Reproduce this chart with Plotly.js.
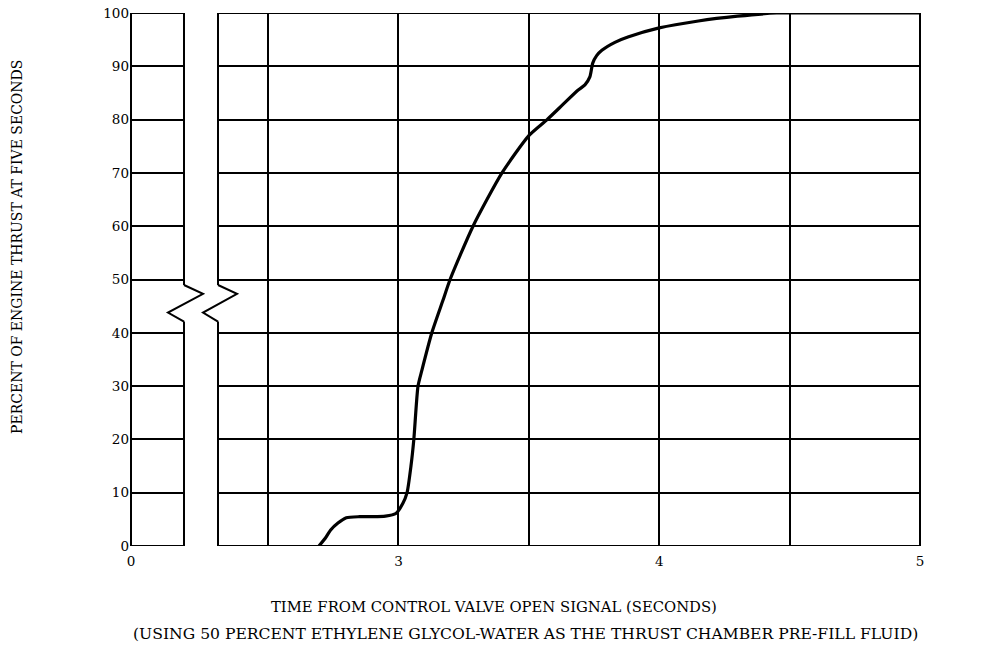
<!DOCTYPE html>
<html>
<head>
<meta charset="utf-8">
<script src="https://cdn.plot.ly/plotly-3.0.1.min.js"></script>
<style>html,body{margin:0;padding:0;background:#fff;}#chart{width:989px;height:655px;}</style>
</head>
<body>
<div id="chart"></div>
<script>
// Data
var timeSec = [2.695, 2.72, 2.74, 2.768, 2.80, 2.85, 2.90, 2.95, 2.99, 3.017, 3.033, 3.048, 3.059, 3.075, 3.09, 3.128, 3.17, 3.198, 3.286, 3.397, 3.50, 3.57, 3.63, 3.688, 3.715, 3.734, 3.745, 3.76, 3.78, 3.83, 3.88, 4.0, 4.15, 4.3, 4.45, 4.7, 5.0];
var thrustPct = [0, 1.5, 3.0, 4.3, 5.3, 5.5, 5.5, 5.6, 6.1, 8.0, 10, 15, 20, 30, 33, 40, 46, 50, 60, 70, 77, 80, 82.8, 85.5, 86.5, 88, 90.6, 92, 93, 94.5, 95.5, 97.2, 98.5, 99.4, 100, 100, 100];

var leftTickVals = [0];
var leftTickText = ['0'];
var rightTickVals = [2.5, 3, 3.5, 4, 4.5, 5];
var rightTickText = ['', '3', '', '4', '', '5'];
var yTickVals = [0, 10, 20, 30, 40, 50, 60, 70, 80, 90, 100];
var yTickText = ['0', '10', '20', '30', '40', '50', '60', '70', '80', '90', '100'];

var yTitle = 'PERCENT OF ENGINE THRUST AT FIVE SECONDS';
var xTitle1 = 'TIME FROM CONTROL VALVE OPEN SIGNAL (SECONDS)';
var xTitle2 = '(USING 50 PERCENT ETHYLENE GLYCOL-WATER AS THE THRUST CHAMBER PRE-FILL FLUID)';

// layout geometry
var L0 = 0, L1 = 0.06717, R0 = 0.11027, R1 = 1;
var brkTop = 48.97, brkA = 47.3, brkB = 43.8, brkBot = 42.1;
var zzOut = 0.0241, zzIn = 0.0203; // zigzag reach (paper units)

var font = 'DejaVu Serif, Liberation Serif, serif';

var traces = [
  {x: [null], y: [null], xaxis: 'x', yaxis: 'y', mode: 'lines', showlegend: false, hoverinfo: 'skip'},
  {x: timeSec, y: thrustPct, xaxis: 'x2', yaxis: 'y', mode: 'lines',
   line: {color: '#000', width: 3.2, shape: 'spline', smoothing: 0.6}, showlegend: false}
];

function P(x, y) { return x + ',' + y; }
var frameStyle = {color: '#000', width: 2};
var shapes = [
  {type: 'path', xref: 'paper', yref: 'y', line: frameStyle, layer: 'above',
   path: 'M ' + P(L1, brkTop) + ' L ' + P(L1, 100) + ' L ' + P(L0, 100) + ' L ' + P(L0, 0) + ' L ' + P(L1, 0) + ' L ' + P(L1, brkBot)},
  {type: 'path', xref: 'paper', yref: 'y', line: frameStyle, layer: 'above',
   path: 'M ' + P(R0, brkTop) + ' L ' + P(R0, 100) + ' L ' + P(R1, 100) + ' L ' + P(R1, 0) + ' L ' + P(R0, 0) + ' L ' + P(R0, brkBot)},
  {type: 'path', xref: 'paper', yref: 'y', line: frameStyle, layer: 'above',
   path: 'M ' + P(L1, brkTop) + ' L ' + P(L1 + zzOut, brkA) + ' L ' + P(L1 - zzIn, brkB) + ' L ' + P(L1, brkBot)},
  {type: 'path', xref: 'paper', yref: 'y', line: frameStyle, layer: 'above',
   path: 'M ' + P(R0, brkTop) + ' L ' + P(R0 + zzOut, brkA) + ' L ' + P(L1 + zzOut, brkB) + ' L ' + P(R0, brkBot)}
];

var tickFont = {family: font, size: 13.5, color: '#000'};

var layout = {
  width: 989, height: 655,
  margin: {l: 131, r: 69, t: 13, b: 109},
  paper_bgcolor: '#fff', plot_bgcolor: '#fff',
  showlegend: false,
  font: {family: font, color: '#000', size: 13},
  xaxis: {domain: [L0, L1], range: [0, 0.2033], anchor: 'y', tickvals: leftTickVals, ticktext: leftTickText,
          showgrid: false, zeroline: false, showline: false, ticks: '', ticklabelstandoff: 5, tickfont: tickFont},
  xaxis2: {domain: [R0, R1], range: [2.308, 5], anchor: 'y', tickvals: rightTickVals, ticktext: rightTickText,
           showgrid: true, gridcolor: '#000', gridwidth: 2, zeroline: false, showline: false, ticks: '',
           ticklabelstandoff: 5, tickfont: tickFont},
  yaxis: {domain: [0, 1], range: [0, 100], anchor: 'x', tickvals: yTickVals, ticktext: yTickText,
          showgrid: true, gridcolor: '#000', gridwidth: 2, zeroline: false, showline: false, ticks: '',
          ticklabelstandoff: 1, tickfont: tickFont},
  shapes: shapes,
  annotations: [
    {text: yTitle, xref: 'paper', yref: 'paper', x: -0.1445, y: 0.561, xanchor: 'center', yanchor: 'middle',
     textangle: -90, showarrow: false, font: {family: font, size: 14, color: '#000'}},
    {text: xTitle1, xref: 'paper', yref: 'paper', x: 0.46, y: -0.1144, xanchor: 'center', yanchor: 'middle',
     showarrow: false, font: {family: font, size: 14.8, color: '#000'}},
    {text: xTitle2, xref: 'paper', yref: 'paper', x: 0.4994, y: -0.165, xanchor: 'center', yanchor: 'middle',
     showarrow: false, font: {family: font, size: 15.6, color: '#000'}}
  ]
};

Plotly.newPlot('chart', traces, layout, {staticPlot: true, displayModeBar: false});
</script>
</body>
</html>
